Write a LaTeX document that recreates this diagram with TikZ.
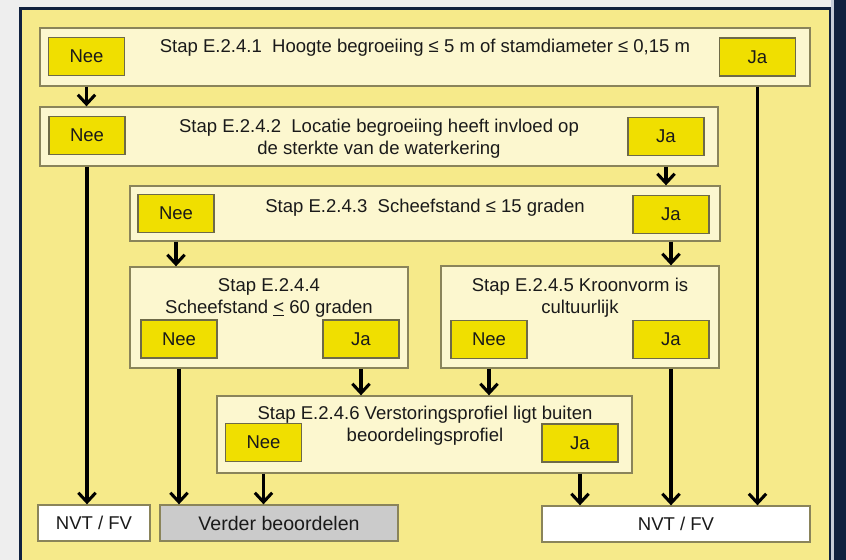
\documentclass[tikz,border=0pt]{standalone}
\usepackage{fontspec}
\setmainfont{Liberation Sans}
\usetikzlibrary{arrows.meta,fit}
\definecolor{bgyellow}{HTML}{F6EA8A}
\definecolor{cream}{HTML}{FCF7CF}
\definecolor{btnyellow}{HTML}{F0DF00}
\definecolor{edgecol}{HTML}{8A845A}
\definecolor{navy}{HTML}{10213F}
\definecolor{pagegray}{HTML}{EEEEEE}
\definecolor{stripe}{HTML}{C5CCD8}
\definecolor{grayfill}{HTML}{CBCBCB}
\definecolor{textcol}{HTML}{1A1A1A}
\newcommand{\fsz}{\fontsize{13.9}{16.5}\selectfont}
\begin{document}
\begin{tikzpicture}[x=0.75pt,y=-0.75pt,
  stepbox/.style={draw=edgecol, line width=1pt, fill=cream, inner sep=0pt},
  choice/.style={draw=edgecol!80!black, line width=1pt, fill=btnyellow, inner sep=0pt,
    minimum width=57pt, minimum height=28.5pt, font=\fsz, text=textcol},
  endbox/.style={draw=edgecol, line width=1pt, inner sep=0pt, minimum height=27pt, font=\fsz, text=textcol},
  steptext/.style={font=\fsz, align=center, anchor=base, inner sep=0pt, text=textcol},
  arr/.style={line width=2.3pt, -{Straight Barb[length=7pt,width=13pt]}}
]
\useasboundingbox (0,0) rectangle (846,560);
% page frame
\fill[pagegray] (0,0) rectangle (846,560);
\fill[navy] (19,7) rectangle (831,560);
\fill[bgyellow] (22,10) rectangle (829,560);
\fill[stripe] (831,0) rectangle (834,560);
\fill[navy] (834,0) rectangle (846,560);

% step boxes
\node[stepbox, fit={(40,28) (810,86)}] (b1) {};
\node[stepbox, fit={(40,107) (718,166)}] (b2) {};
\node[stepbox, fit={(130,186) (720,241)}] (b3) {};
\node[stepbox, fit={(130,267) (408,368)}] (b4) {};
\node[stepbox, fit={(441,266) (719,368)}] (b5) {};
\node[stepbox, fit={(217,396) (632,473)}] (b6) {};

% step texts (anchor base = baseline of the last line)
\node[steptext] (t1) at (425,53) {Stap E.2.4.1\ \ Hoogte begroeiing ≤ 5 m of stamdiameter ≤ 0,15 m};
\node[steptext] (t2) at (379,154) {Stap E.2.4.2\ \ Locatie begroeiing heeft invloed op\\de sterkte van de waterkering};
\node[steptext] (t3) at (425,212) {Stap E.2.4.3\ \ Scheefstand ≤ 15 graden};
\node[steptext] (t4) at (269,313) {Stap E.2.4.4\\Scheefstand \underline{<} 60 graden};
\node[steptext] (t5) at (580,313) {Stap E.2.4.5 Kroonvorm is\\cultuurlijk};
\node[steptext] (t6) at (425,441) {Stap E.2.4.6 Verstoringsprofiel ligt buiten\\beoordelingsprofiel};

% choice buttons
\node[choice] (nee1) at (86.5,56.5) {Nee};
\node[choice] (ja1) at (757.5,57) {Ja};
\node[choice] (nee2) at (87,135.5) {Nee};
\node[choice] (ja2) at (666,136.5) {Ja};
\node[choice] (nee3) at (176,213.5) {Nee};
\node[choice] (ja3) at (671,214.5) {Ja};
\node[choice] (nee4) at (179,339) {Nee};
\node[choice] (ja4) at (361,339) {Ja};
\node[choice] (nee5) at (489,339.5) {Nee};
\node[choice] (ja5) at (671,339.5) {Ja};
\node[choice] (nee6) at (263.5,442.5) {Nee};
\node[choice] (ja6) at (580,443) {Ja};

% end boxes
\node[endbox, fill=white, minimum width=84pt] (nvt1) at (94,523) {NVT / FV};
\node[endbox, fill=grayfill, minimum width=178.5pt, font=\fontsize{14.7}{17}\selectfont] (verder) at (279,523) {Verder beoordelen};
\node[endbox, fill=white, minimum width=201pt] (nvt2) at (676,524) {NVT / FV};

% connectors
\draw[arr] (nee1 |- b1.south) -- (nee1 |- b2.north);
\draw[arr] (ja1 |- b1.south) -- (ja1 |- nvt2.north);
\draw[arr] (nee2 |- b2.south) -- (nee2 |- nvt1.north);
\draw[arr] (ja2 |- b2.south) -- (ja2 |- b3.north);
\draw[arr] (nee3 |- b3.south) -- (nee3 |- b4.north);
\draw[arr] (ja3 |- b3.south) -- (ja3 |- b5.north);
\draw[arr] (nee4 |- b4.south) -- (nee4 |- verder.north);
\draw[arr] (ja4 |- b4.south) -- (ja4 |- b6.north);
\draw[arr] (nee5 |- b5.south) -- (nee5 |- b6.north);
\draw[arr] (ja5 |- b5.south) -- (ja5 |- nvt2.north);
\draw[arr] (nee6 |- b6.south) -- (nee6 |- verder.north);
\draw[arr] (ja6 |- b6.south) -- (ja6 |- nvt2.north);
\end{tikzpicture}
\end{document}
